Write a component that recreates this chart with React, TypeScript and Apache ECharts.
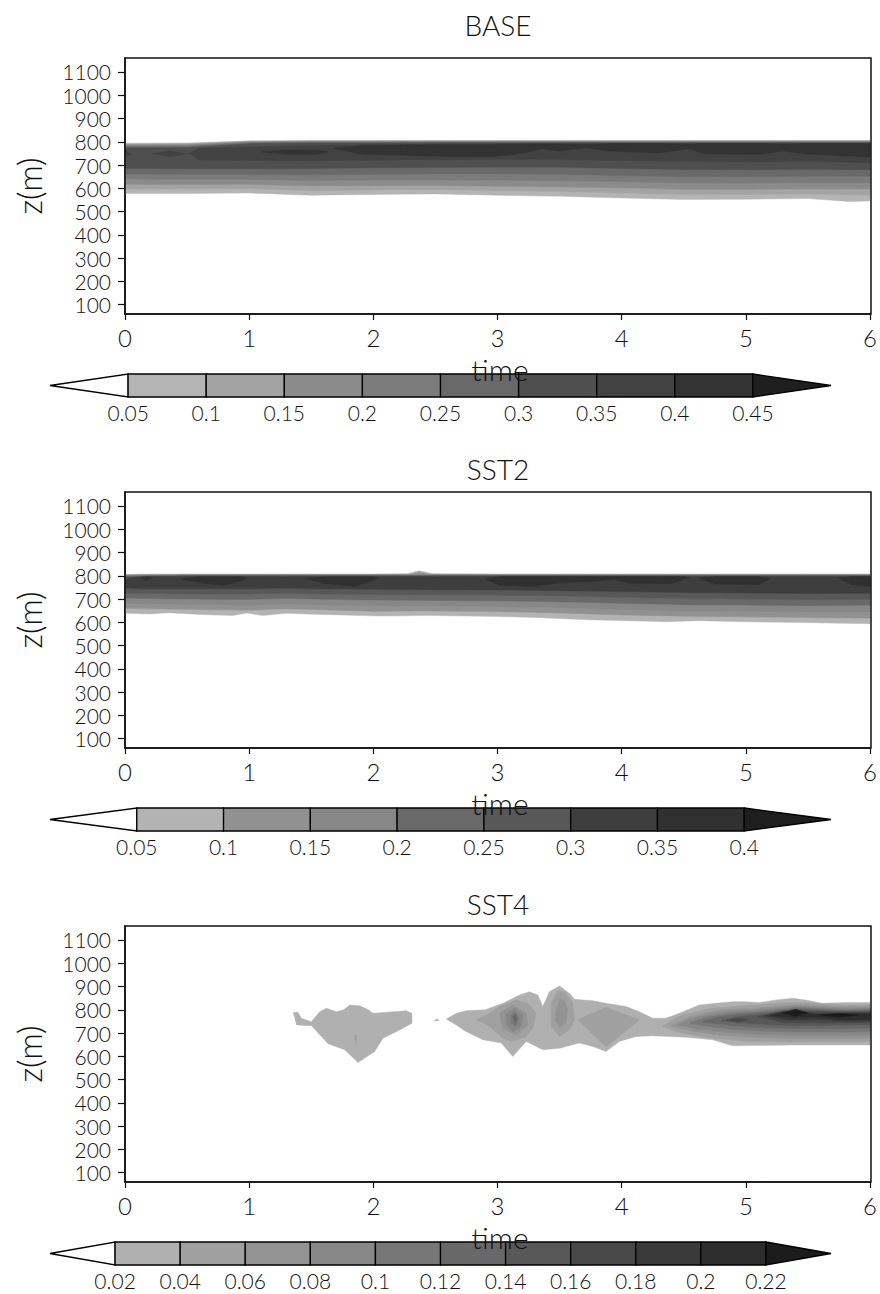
import React, { useEffect, useRef } from "react";
import * as echarts from "echarts";

// A band piece is a list of [time, zLow, zHigh]; a blob piece is a closed outline of [time, z].
type Pt = number[];
type Piece = [number, Pt[]]; // [contour level index, points]

const TIME_TICKS = [0, 1, 2, 3, 4, 5, 6];
const Z_MIN = 60;
const Z_MAX = 1160;
const Z_TICKS = [100, 200, 300, 400, 500, 600, 700, 800, 900, 1000, 1100];

// ---------- BASE ----------
const BASE_LEVELS = [0.05, 0.1, 0.15, 0.2, 0.25, 0.3, 0.35, 0.4, 0.45];
const BASE_SHADES = ["#b4b4b4", "#a3a3a3", "#8b8b8b", "#7b7b7b", "#696969", "#4f4f4f", "#424242", "#333333", "#1f1f1f"];
const BASE_BANDS: Piece[] = [
  [0, [[0, 578, 794], [0.5, 578, 795], [1, 580, 804], [1.5, 570, 806], [2, 574, 806], [2.5, 576, 806], [3, 570, 806], [3.5, 566, 806], [4, 558, 806], [4.5, 552, 806], [5, 553, 806], [5.5, 556, 806], [5.83, 543, 806], [6, 546, 806]]],
  [1, [[0, 597, 791], [0.5, 597, 792], [1, 598, 802], [1.5, 590, 804], [2, 593, 804], [2.5, 594, 804], [3, 590, 804], [3.5, 586, 804], [4, 580, 804], [4.5, 574, 804], [5, 574, 804], [5.5, 576, 804], [6, 570, 804]]],
  [2, [[0, 617, 787], [0.5, 616, 788], [1, 617, 800], [1.5, 610, 802], [2, 612, 802], [2.5, 613, 802], [3, 609, 802], [3.5, 606, 802], [4, 602, 802], [4.5, 596, 802], [5, 596, 802], [5.5, 598, 802], [6, 597, 802]]],
  [3, [[0, 640, 783], [0.5, 638, 784], [1, 638, 798], [1.5, 634, 800], [2, 636, 800], [2.5, 636, 800], [3, 635, 800], [3.5, 633, 800], [4, 628, 800], [4.5, 623, 800], [5, 622, 800], [5.5, 624, 800], [6, 624, 800]]],
  [4, [[0, 662, 779], [0.5, 660, 780], [1, 660, 795], [1.5, 658, 798], [2, 660, 798], [2.5, 662, 798], [3, 662, 798], [3.5, 661, 798], [4, 655, 798], [4.5, 650, 798], [5, 650, 798], [5.5, 652, 798], [6, 652, 798]]],
  [5, [[0, 686, 774], [0.5, 684, 775], [1, 684, 792], [1.5, 685, 795], [2, 688, 795], [2.5, 690, 796], [3, 691, 796], [3.5, 691, 796], [4, 685, 796], [4.5, 681, 796], [5, 680, 796], [5.5, 682, 796], [6, 680, 796]]],
  [6, [[0, 733, 763], [0.05, 748, 749]]],
  [6, [[0.22, 748, 749], [0.36, 736, 761], [0.5, 748, 749]]],
  [6, [[0.52, 748, 752], [0.6, 722, 772], [1, 720, 778], [1.5, 719, 784], [2, 721, 788], [2.5, 723, 790], [3, 725, 792], [3.5, 724, 793], [4, 720, 794], [4.5, 716, 794], [5, 714, 794], [5.5, 716, 794], [6, 710, 794]]],
  [7, [[1.1, 756, 757], [1.3, 746, 765], [1.55, 746, 766], [1.63, 756, 757]]],
  [7, [[1.68, 772, 773], [1.9, 746, 784], [2.5, 738, 788], [2.95, 736, 788], [3.2, 750, 790], [3.35, 770, 791], [3.5, 760, 791], [3.7, 774, 788], [3.9, 760, 792], [4.3, 752, 792], [4.55, 770, 790], [4.65, 750, 792], [5.1, 745, 792], [5.3, 760, 790], [5.5, 746, 792], [6, 735, 792]]],
];

// ---------- SST2 ----------
const SST2_LEVELS = [0.05, 0.1, 0.15, 0.2, 0.25, 0.3, 0.35, 0.4];
const SST2_SHADES = ["#b3b3b3", "#919191", "#878787", "#696969", "#585858", "#3e3e3e", "#303030", "#1e1e1e"];
const SST2_BANDS: Piece[] = [
  [0, [[0, 639, 806], [0.2, 636, 808], [0.36, 641, 808], [0.6, 634, 808], [0.87, 629, 808], [0.98, 640, 808], [1.11, 629, 808], [1.3, 639, 808], [1.57, 634, 808], [2.05, 627, 808], [2.27, 628, 809], [2.37, 629, 822], [2.48, 629, 809], [3, 625, 808], [3.3, 621, 808], [3.72, 611, 808], [4.36, 603, 808], [4.62, 607, 808], [5, 602, 808], [5.43, 599, 808], [6, 594, 808]]],
  [1, [[0, 660, 804], [0.5, 656, 806], [1, 652, 806], [1.3, 658, 806], [1.5, 655, 806], [2, 648, 806], [2.3, 649, 807], [2.37, 650, 815], [2.45, 649, 807], [3, 646, 806], [3.5, 640, 806], [4, 632, 806], [4.5, 626, 806], [5, 624, 806], [5.5, 621, 806], [6, 618, 806]]],
  [2, [[0, 682, 802], [0.5, 678, 804], [1, 674, 804], [1.3, 680, 804], [1.5, 676, 804], [2, 672, 804], [2.5, 671, 804], [3, 668, 804], [3.5, 664, 804], [4, 656, 804], [4.5, 650, 804], [5, 648, 804], [5.5, 645, 804], [6, 645, 804]]],
  [3, [[0, 704, 799], [0.5, 700, 802], [1, 698, 802], [1.3, 703, 802], [1.5, 700, 802], [2, 696, 802], [2.5, 694, 802], [3, 692, 802], [3.5, 688, 802], [4, 682, 802], [4.5, 676, 802], [5, 674, 802], [5.5, 671, 802], [6, 674, 802]]],
  [4, [[0, 726, 795], [0.5, 722, 800], [1, 722, 800], [1.3, 725, 800], [1.5, 722, 800], [2, 720, 800], [2.5, 718, 800], [3, 717, 800], [3.5, 714, 800], [4, 708, 800], [4.5, 702, 800], [5, 700, 800], [5.5, 698, 800], [6, 699, 800]]],
  [5, [[0, 748, 788], [0.15, 744, 797], [0.5, 744, 797], [1, 744, 797], [1.3, 747, 797], [1.5, 744, 797], [2, 742, 797], [2.5, 740, 797], [3, 739, 797], [3.5, 736, 797], [4, 732, 797], [4.5, 728, 797], [5, 726, 797], [5.5, 724, 797], [6, 725, 797]]],
  [6, [[0.13, 790, 791], [0.17, 780, 796], [0.22, 790, 791]]],
  [6, [[0.45, 785, 786], [0.6, 770, 796], [0.8, 758, 796], [0.94, 780, 796], [0.98, 790, 791]]],
  [6, [[1.45, 788, 789], [1.6, 768, 796], [1.85, 755, 796], [2.0, 780, 796], [2.05, 790, 791]]],
  [6, [[2.9, 785, 786], [3.02, 758, 797], [3.3, 754, 797], [3.5, 770, 797], [3.75, 775, 797], [3.95, 785, 797], [4.05, 768, 797], [4.4, 766, 797], [4.5, 785, 797], [4.55, 792, 793]]],
  [6, [[4.62, 790, 791], [4.75, 765, 797], [5.1, 762, 797], [5.2, 788, 789]]],
  [6, [[5.75, 790, 791], [5.85, 762, 797], [6, 754, 797]]],
];

// ---------- SST4 ----------
const SST4_LEVELS = [0.02, 0.04, 0.06, 0.08, 0.1, 0.12, 0.14, 0.16, 0.18, 0.2, 0.22];
const SST4_SHADES = ["#b0b0b0", "#a0a0a0", "#939393", "#878787", "#777777", "#686868", "#585858", "#484848", "#3a3a3a", "#2d2d2d", "#1c1c1c"];
const SST4_BLOBS: Piece[] = [
  [0, [[1.354, 788], [1.39, 790], [1.421, 764], [1.5, 749], [1.568, 792], [1.622, 807], [1.703, 792], [1.76, 800], [1.81, 821], [1.89, 817], [1.96, 800], [1.997, 785], [2.13, 790], [2.265, 796], [2.311, 785], [2.311, 742], [2.185, 706], [2.078, 678], [2.011, 621], [1.877, 573], [1.769, 628], [1.635, 654], [1.582, 685], [1.502, 731], [1.381, 735], [1.368, 764]]],
  [0, [[2.49, 752], [2.51, 762], [2.53, 754]]],
  [0, [[2.587, 760], [2.668, 785], [2.748, 796], [2.9, 800], [3.043, 828], [3.177, 864], [3.257, 878], [3.324, 864], [3.365, 814], [3.418, 878], [3.499, 902], [3.58, 871], [3.62, 845], [3.77, 839], [3.874, 828], [4.035, 814], [4.142, 792], [4.249, 764], [4.357, 764], [4.464, 785], [4.625, 821], [4.759, 828], [4.893, 835], [5.0, 835], [5.107, 831], [5.242, 842], [5.376, 850], [5.483, 842], [5.617, 828], [5.805, 831], [6.0, 831], [6.0, 649], [5.376, 649], [4.893, 645], [4.732, 671], [4.518, 682], [4.249, 688], [4.116, 685], [3.981, 664], [3.874, 621], [3.767, 642], [3.659, 657], [3.5, 635], [3.365, 628], [3.231, 664], [3.123, 599], [3.03, 657], [2.882, 671], [2.748, 706], [2.668, 735]]],
  [1, [[1.845, 690], [1.87, 692], [1.86, 650]]],
  [1, [[2.829, 757], [2.936, 785], [3.016, 814], [3.15, 842], [3.244, 828], [3.311, 785], [3.284, 721], [3.231, 685], [3.123, 664], [3.043, 678], [2.936, 728]]],
  [1, [[3.432, 828], [3.485, 882], [3.539, 878], [3.606, 828], [3.62, 757], [3.579, 714], [3.499, 685], [3.432, 728]]],
  [1, [[3.646, 757], [3.874, 811], [4.142, 757], [3.874, 640]]],
  [1, [[4.33, 728, 730], [4.45, 705, 770], [4.7, 680, 805], [5.0, 665, 818], [5.4, 662, 832], [5.8, 663, 820], [6, 664, 822]]],
  [2, [[3.016, 785], [3.123, 821], [3.231, 785], [3.244, 735], [3.15, 692], [3.043, 721]]],
  [2, [[3.47, 800], [3.5, 845], [3.54, 840], [3.565, 800], [3.55, 745], [3.5, 725], [3.46, 760]]],
  [2, [[4.4, 730, 732], [4.55, 710, 770], [4.8, 690, 800], [5.1, 680, 808], [5.4, 676, 822], [5.8, 677, 812], [6, 678, 814]]],
  [3, [[3.07, 785], [3.137, 807], [3.204, 778], [3.19, 728], [3.123, 707], [3.075, 735]]],
  [3, [[4.45, 735, 737], [4.6, 718, 768], [4.85, 702, 792], [5.1, 695, 800], [5.4, 690, 815], [5.8, 691, 806], [6, 692, 808]]],
  [4, [[3.11, 778], [3.145, 792], [3.17, 764], [3.15, 728], [3.11, 742]]],
  [4, [[4.55, 742, 744], [4.7, 728, 770], [4.9, 715, 785], [5.1, 710, 792], [5.4, 705, 810], [5.8, 705, 800], [6, 706, 803]]],
  [5, [[3.125, 770], [3.145, 782], [3.16, 760], [3.14, 745]]],
  [5, [[4.65, 748, 750], [4.8, 738, 772], [5.0, 728, 782], [5.2, 722, 790], [5.4, 720, 805], [5.8, 719, 796], [6, 721, 798]]],
  [6, [[4.8, 752, 754], [4.95, 745, 770], [5.2, 735, 785], [5.4, 732, 800], [5.8, 733, 792], [6, 735, 794]]],
  [7, [[4.85, 756], [4.93, 766], [5.02, 756], [4.93, 746]]],
  [7, [[5.1, 771, 772], [5.3, 745, 795], [5.8, 743, 788], [6, 745, 790]]],
  [8, [[5.15, 773, 774], [5.35, 755, 795], [5.6, 758, 782], [5.8, 750, 786], [6, 752, 786]]],
  [9, [[5.2, 776, 777], [5.38, 765, 798], [5.55, 770, 780], [5.75, 758, 784], [6, 758, 782]]],
  [10, [[5.3, 786, 787], [5.4, 772, 802], [5.5, 786, 787]]],
  [10, [[5.6, 777, 778], [5.75, 768, 784], [5.9, 777, 778]]],
];

const PANELS = [
  { title: "BASE", levels: BASE_LEVELS, shades: BASE_SHADES, pieces: BASE_BANDS, top: 58, titleY: 25 },
  { title: "SST2", levels: SST2_LEVELS, shades: SST2_SHADES, pieces: SST2_BANDS, top: 492, titleY: 469 },
  { title: "SST4", levels: SST4_LEVELS, shades: SST4_SHADES, pieces: SST4_BLOBS, top: 926, titleY: 904 },
];

const FONT = "Lato, 'Liberation Sans', sans-serif";
const WEIGHT = 300;
const INK = "#111";
const PLOT_LEFT = 125;
const PLOT_WIDTH = 746;
const PLOT_HEIGHT = 256;
const BAR_LEFT = 50;
const BAR_WIDTH = 781;
const BAR_GAP = 60;
const BAR_HEIGHT = 23;

// Turns a band ([t, lo, hi] rows) into a closed outline; blobs pass through.
function outline(pts: Pt[]): Pt[] {
  if (pts[0].length === 3) {
    const upper = pts.map((p) => [p[0], p[2]]);
    const lower = pts.map((p) => [p[0], p[1]]).reverse();
    return upper.concat(lower);
  }
  return pts;
}

function buildOption() {
  const grid: any[] = [];
  const xAxis: any[] = [];
  const yAxis: any[] = [];
  const series: any[] = [];
  const graphic: any[] = [];

  PANELS.forEach((panel, i) => {
    const gi = i * 2;
    const top = panel.top;
    const bottom = top + PLOT_HEIGHT;
    const n = panel.levels.length - 1; // number of closed boxes in the colour bar
    const polys = panel.pieces.map((pc) => ({ level: pc[0], pts: outline(pc[1]) }));

    grid.push({ left: PLOT_LEFT, top, width: PLOT_WIDTH, height: PLOT_HEIGHT, show: false });
    xAxis.push({
      gridIndex: gi,
      type: "value",
      min: TIME_TICKS[0],
      max: TIME_TICKS[TIME_TICKS.length - 1],
      interval: 1,
      axisLine: { show: true, onZero: false, lineStyle: { color: INK, width: 1.5 } },
      axisTick: { show: true, inside: false, length: 6, lineStyle: { color: INK, width: 1.2 } },
      axisLabel: { show: true, showMinLabel: true, showMaxLabel: true, fontSize: 24, fontFamily: FONT, fontWeight: WEIGHT, color: INK, margin: 11 },
      splitLine: { show: false },
    });
    yAxis.push({
      gridIndex: gi,
      type: "value",
      min: Z_MIN,
      max: Z_MAX,
      axisLine: { show: true, onZero: false, lineStyle: { color: INK, width: 1.5 } },
      axisTick: { show: true, inside: false, length: 7, customValues: Z_TICKS, lineStyle: { color: INK, width: 1.2 } },
      axisLabel: {
        show: true,
        customValues: Z_TICKS,
        showMinLabel: true,
        showMaxLabel: true,
        hideOverlap: false,
        fontSize: 21,
        lineHeight: 19,
        fontFamily: FONT,
        fontWeight: WEIGHT,
        color: INK,
        margin: 14,
        formatter: (v: number) => String(v),
      },
      splitLine: { show: false },
    });

    // colour bar grid
    grid.push({ left: BAR_LEFT, top: bottom + BAR_GAP, width: BAR_WIDTH, height: BAR_HEIGHT, show: false });
    xAxis.push({
      gridIndex: gi + 1,
      type: "value",
      min: -1,
      max: n + 1,
      interval: 1,
      axisLine: { show: false },
      axisTick: { show: false },
      splitLine: { show: false },
      axisLabel: {
        show: true,
        margin: 5,
        fontSize: 21,
        fontFamily: FONT,
        fontWeight: WEIGHT,
        color: INK,
        showMinLabel: true,
        showMaxLabel: true,
        formatter: (v: number) => {
          const k = Math.round(v);
          return k >= 0 && k <= n ? String(panel.levels[k]) : "";
        },
      },
    });
    yAxis.push({ gridIndex: gi + 1, type: "value", min: 0, max: 1, show: false });

    series.push({
      type: "custom",
      xAxisIndex: gi,
      yAxisIndex: gi,
      clip: true,
      silent: true,
      data: polys.map((p) => [p.pts[0][0], p.pts[0][1]]),
      renderItem: (params: any, api: any) => {
        const p = polys[params.dataIndex];
        const fill = panel.shades[p.level];
        return {
          type: "polygon",
          shape: { points: p.pts.map((q) => api.coord(q)) },
          style: { fill, stroke: fill, lineWidth: 0.4 },
        };
      },
    });

    const barItems: number[][] = [];
    for (let k = -1; k <= n; k++) barItems.push([k, 0.5]);
    series.push({
      type: "custom",
      xAxisIndex: gi + 1,
      yAxisIndex: gi + 1,
      clip: false,
      silent: true,
      data: barItems,
      renderItem: (params: any, api: any) => {
        const k = api.value(0);
        const style = { stroke: "#000", lineWidth: 1.3 };
        if (k < 0) {
          return {
            type: "polygon",
            shape: { points: [api.coord([-1, 0.5]), api.coord([0, 1]), api.coord([0, 0])] },
            style: { ...style, fill: "#ffffff" },
          };
        }
        if (k >= n) {
          return {
            type: "polygon",
            shape: { points: [api.coord([n, 1]), api.coord([n + 1, 0.5]), api.coord([n, 0])] },
            style: { ...style, fill: panel.shades[n] },
          };
        }
        const a = api.coord([k, 1]);
        const b = api.coord([k + 1, 0]);
        return {
          type: "rect",
          shape: { x: a[0], y: a[1], width: b[0] - a[0], height: b[1] - a[1] },
          style: { ...style, fill: panel.shades[k] },
        };
      },
    });

    // frame drawn above the filled contours
    graphic.push({
      type: "rect",
      z: 100,
      silent: true,
      shape: { x: PLOT_LEFT, y: top, width: PLOT_WIDTH, height: PLOT_HEIGHT },
      style: { fill: "none", stroke: INK, lineWidth: 1.5 },
    });
    graphic.push({
      type: "text",
      z: 100,
      x: PLOT_LEFT + PLOT_WIDTH / 2,
      y: panel.titleY,
      style: { text: panel.title, fontSize: 28, fontFamily: FONT, fontWeight: WEIGHT, fill: INK, align: "center", verticalAlign: "middle" },
    });
    graphic.push({
      type: "text",
      z: 100,
      x: 29,
      y: top + PLOT_HEIGHT / 2,
      rotation: Math.PI / 2,
      style: { text: "z(m)", fontSize: 33, fontFamily: FONT, fontWeight: WEIGHT, fill: INK, align: "center", verticalAlign: "middle" },
    });
    graphic.push({
      type: "text",
      z: 100,
      x: PLOT_LEFT + PLOT_WIDTH / 2 + 2,
      y: bottom + 55,
      style: { text: "time", fontSize: 30, fontFamily: FONT, fontWeight: WEIGHT, fill: INK, align: "center", verticalAlign: "middle" },
    });
  });

  return {
    animation: false,
    backgroundColor: "#ffffff",
    grid,
    xAxis,
    yAxis,
    series,
    graphic,
  };
}

export default function App() {
  const ref = useRef<HTMLDivElement>(null);
  useEffect(() => {
    document.body.style.margin = "0";
    if (!ref.current) return;
    const chart = echarts.init(ref.current, undefined, { renderer: "svg" });
    chart.setOption(buildOption() as any);
    return () => chart.dispose();
  }, []);
  return <div ref={ref} style={{ width: 880, height: 1294 }} />;
}
